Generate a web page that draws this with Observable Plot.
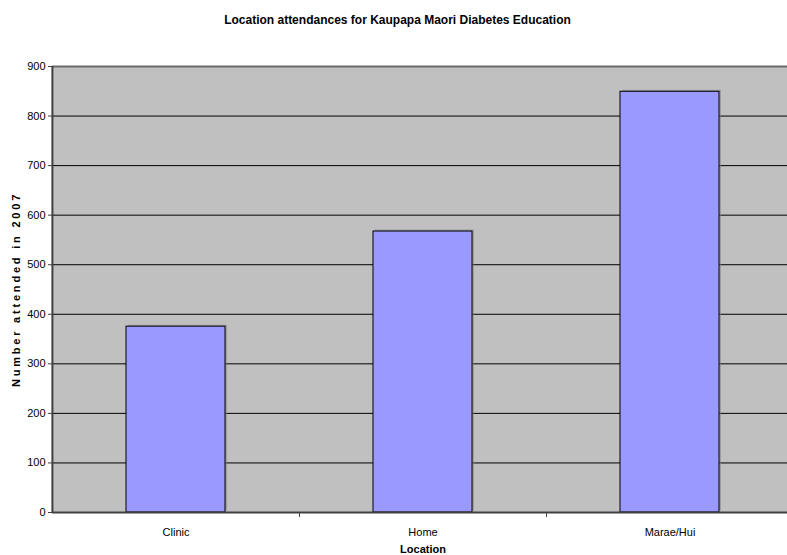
<!DOCTYPE html>
<html>
<head>
<meta charset="utf-8">
<script src="https://cdn.jsdelivr.net/npm/d3@7"></script>
<script src="https://cdn.jsdelivr.net/npm/@observablehq/plot@0.6"></script>
<style>
  html, body { margin: 0; padding: 0; background: #fff; overflow: hidden; }
  body { width: 787px; height: 555px; font-family: "Liberation Sans", Arial, sans-serif; }
  #title { height: 40px; line-height: 40px; font-size: 12px; font-weight: bold; text-align: center; padding-left: 8px; box-sizing: border-box; color: #000; }
  #chart svg { display: block; overflow: hidden; }
  #chart g[aria-label="y-axis label"] text { font-weight: bold; letter-spacing: 2.8px; font-size: 11px; }
  #chart g[aria-label="x-axis label"] text { font-weight: bold; font-size: 11px; }
</style>
</head>
<body>
<div id="title">Location attendances for Kaupapa Maori Diabetes Education</div>
<div id="chart"></div>
<script>
const categories = ["Clinic", "Home", "Marae/Hui"];
const attended = [375, 567, 849];
const yTicks = [0, 100, 200, 300, 400, 500, 600, 700, 800, 900];
const gridTicks = [100, 200, 300, 400, 500, 600, 700, 800];
const xLabel = "Location";
const yLabel = "Number attended in 2007";

const data = categories.map((c, i) => ({location: c, value: attended[i]}));
const paddingInner = 0.6, paddingOuter = 0.3;

function build(step, bw) {
  return Plot.plot({
    width: 787,
    height: 515,
    marginTop: 26,
    marginBottom: 43,
    marginLeft: 52,
    marginRight: -6,
    style: {fontFamily: "'Liberation Sans', Arial, sans-serif", fontSize: "11px", color: "#000", background: "#fff"},
    x: {domain: categories, paddingInner, paddingOuter, label: null},
    y: {domain: [0, 900], label: null},
    marks: [
      Plot.frame({fill: "#c0c0c0", stroke: null}),
      Plot.ruleY(gridTicks, {stroke: "#000", strokeWidth: 1}),
      Plot.ruleY([900], {stroke: "#6a6a6a", strokeWidth: 2}),
      Plot.barY(data, {x: "location", y: "value", fill: "#808080", fillOpacity: 0.55, dx: 2, dy: -1.5}),
      Plot.barY(data, {x: "location", y: "value", fill: "#9999ff", stroke: "#000", strokeWidth: 1}),
      Plot.axisY({ticks: yTicks, tickSize: 4, tickPadding: 3, stroke: "#404040", fill: "#000",
                  label: yLabel, labelAnchor: "center", labelArrow: "none", labelOffset: 40}),
      Plot.axisX({tickSize: 0, tickPadding: 16, fill: "#000", label: xLabel, labelAnchor: "center", labelArrow: "none", labelOffset: 40}),
      Plot.ruleX(categories.slice(0, -1), {x: d => d, dx: step / 2, y1: 0, y2: -10, stroke: "#404040"}),
      Plot.ruleY([0], {stroke: "#404040", strokeWidth: 2}),
      Plot.ruleX([categories[0]], {x: d => d, dx: -(step * paddingOuter + bw / 2), y1: 0, y2: 900, stroke: "#404040", strokeWidth: 2})
    ]
  });
}

let plot = build(0, 0);
const xs = plot.scale("x");
const step = xs.step != null ? xs.step : (xs.range[1] - xs.range[0]) / (categories.length - paddingInner + 2 * paddingOuter);
const bw = xs.bandwidth != null ? xs.bandwidth : step * (1 - paddingInner);
plot = build(step, bw);
document.getElementById("chart").appendChild(plot);
</script>
</body>
</html>
